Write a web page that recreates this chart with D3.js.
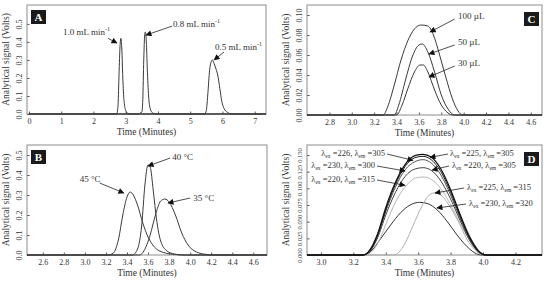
<!DOCTYPE html>
<html>
<head>
<meta charset="utf-8">
<script src="https://cdn.jsdelivr.net/npm/d3@7"></script>
<style>
body { margin: 0; background: #fff; }
text { font-family: "Liberation Serif", "DejaVu Serif", serif; fill: #333; }
</style>
</head>
<body>
<script>
// ---- data (time in minutes, signal in volts) ----

// Panel A: flow rate
var flowLabels = ["1.0 mL min", "0.8 mL min", "0.5 mL min"];
var flow10 = [[0,0],[2.72,0],[2.76,0.04],[2.79,0.2],[2.82,0.36],[2.85,0.42],[2.88,0.36],[2.91,0.2],[2.95,0.07],[3.0,0.02],[3.06,0.004],[3.15,0],[7.35,0]];
var flow08 = [[0,0],[3.4,0],[3.45,0.006],[3.5,0.01],[3.53,0.08],[3.56,0.3],[3.59,0.44],[3.61,0.455],[3.64,0.4],[3.67,0.25],[3.71,0.1],[3.76,0.03],[3.84,0.005],[3.95,0],[7.35,0]];
var flow05 = [[0,0],[5.45,0],[5.5,0.02],[5.55,0.12],[5.6,0.24],[5.65,0.29],[5.69,0.3],[5.74,0.28],[5.8,0.25],[5.86,0.21],[5.92,0.14],[5.98,0.07],[6.05,0.03],[6.15,0.01],[6.3,0],[7.35,0]];
var ticksA_x = [0, 1, 2, 3, 4, 5, 6, 7];
var ticksA_y = [0, 0.1, 0.2, 0.3, 0.4, 0.5];

// Panel B: temperature
var tempLabels = ["45 °C", "40 °C", "35 °C"];
var temp45 = [[2.45,0],[3.22,0],[3.27,0.01],[3.32,0.08],[3.36,0.2],[3.4,0.29],[3.43,0.315],[3.46,0.3],[3.5,0.25],[3.55,0.16],[3.6,0.09],[3.66,0.04],[3.75,0.012],[3.85,0.003],[3.95,0],[4.73,0]];
var temp40 = [[2.45,0],[3.45,0],[3.5,0.03],[3.54,0.15],[3.57,0.35],[3.6,0.45],[3.62,0.44],[3.65,0.32],[3.68,0.18],[3.72,0.07],[3.78,0.02],[3.85,0.005],[3.92,0],[4.73,0]];
var temp35 = [[2.45,0],[3.52,0],[3.56,0.02],[3.62,0.1],[3.67,0.2],[3.72,0.27],[3.76,0.28],[3.8,0.265],[3.86,0.2],[3.92,0.11],[3.98,0.05],[4.06,0.015],[4.15,0.003],[4.2,0],[4.73,0]];
var ticksB_x = [2.6, 2.8, 3.0, 3.2, 3.4, 3.6, 3.8, 4.0, 4.2, 4.4, 4.6];
var ticksB_y = [0, 0.1, 0.2, 0.3, 0.4, 0.5];

// Panel C: injection volume
var volLabels = ["100 µL", "50 µL", "30 µL"];
var vol100 = [[2.6,0],[3.28,0],[3.32,0.008],[3.38,0.03],[3.44,0.055],[3.5,0.074],[3.56,0.086],[3.62,0.09],[3.68,0.089],[3.73,0.08],[3.78,0.062],[3.84,0.038],[3.9,0.016],[3.95,0.004],[3.99,0],[4.7,0]];
var vol50 = [[2.6,0],[3.38,0],[3.42,0.01],[3.48,0.035],[3.54,0.058],[3.6,0.07],[3.63,0.071],[3.68,0.063],[3.74,0.043],[3.8,0.02],[3.86,0.006],[3.92,0],[4.7,0]];
var vol30 = [[2.6,0],[3.4,0],[3.45,0.01],[3.5,0.026],[3.56,0.043],[3.61,0.05],[3.64,0.05],[3.68,0.043],[3.74,0.025],[3.8,0.01],[3.86,0.002],[3.9,0],[4.7,0]];
var ticksC_x = [2.8, 3.0, 3.2, 3.4, 3.6, 3.8, 4.0, 4.2, 4.4, 4.6];
var ticksC_y = [0, 0.02, 0.04, 0.06, 0.08, 0.10];

// Panel D: excitation / emission wavelengths
var lambdaEx = [226, 225, 230, 220, 220, 225, 230];
var lambdaEm = [305, 305, 300, 305, 315, 315, 320];
var wl226_305 = [[2.9,0],[3.26,0],[3.3,0.006],[3.35,0.03],[3.4,0.068],[3.46,0.106],[3.52,0.133],[3.58,0.146],[3.63,0.148],[3.68,0.143],[3.74,0.125],[3.8,0.094],[3.86,0.057],[3.92,0.024],[3.97,0.006],[4.01,0],[4.4,0]];
var wl225_305 = [[2.9,0],[3.26,0],[3.3,0.007],[3.35,0.032],[3.4,0.071],[3.46,0.109],[3.52,0.136],[3.58,0.149],[3.63,0.151],[3.68,0.147],[3.74,0.129],[3.8,0.098],[3.86,0.06],[3.92,0.026],[3.97,0.007],[4.02,0],[4.4,0]];
var wl230_300 = [[2.9,0],[3.26,0],[3.3,0.005],[3.35,0.028],[3.4,0.065],[3.46,0.102],[3.52,0.128],[3.58,0.14],[3.63,0.143],[3.68,0.138],[3.74,0.12],[3.8,0.09],[3.86,0.054],[3.92,0.023],[3.97,0.005],[4.01,0],[4.4,0]];
var wl220_305 = [[2.9,0],[3.26,0],[3.3,0.005],[3.35,0.026],[3.4,0.06],[3.46,0.094],[3.52,0.118],[3.58,0.129],[3.63,0.131],[3.68,0.127],[3.74,0.111],[3.8,0.084],[3.86,0.051],[3.92,0.021],[3.97,0.005],[4.01,0],[4.4,0]];
var wl220_315 = [[2.9,0],[3.27,0],[3.31,0.004],[3.36,0.022],[3.41,0.052],[3.47,0.084],[3.53,0.105],[3.59,0.116],[3.64,0.117],[3.69,0.112],[3.75,0.096],[3.81,0.071],[3.87,0.042],[3.93,0.017],[3.97,0.004],[4.01,0],[4.4,0]];
var wl225_315 = [[2.9,0],[3.45,0],[3.48,0.004],[3.52,0.018],[3.57,0.045],[3.62,0.072],[3.66,0.088],[3.7,0.093],[3.74,0.09],[3.79,0.075],[3.85,0.049],[3.9,0.024],[3.95,0.008],[4.0,0],[4.4,0]];
var wl230_320 = [[2.9,0],[3.27,0],[3.31,0.006],[3.37,0.025],[3.43,0.045],[3.49,0.063],[3.55,0.075],[3.61,0.079],[3.66,0.077],[3.72,0.067],[3.78,0.05],[3.84,0.03],[3.9,0.013],[3.95,0.003],[3.99,0],[4.4,0]];
var ticksD_x = [3.0, 3.2, 3.4, 3.6, 3.8, 4.0, 4.2];
var ticksD_y = [0, 0.025, 0.05, 0.075, 0.1, 0.125, 0.15];

// ---- drawing ----
var width = 550, height = 281;

var svg = d3.select("body").append("svg")
    .attr("width", width)
    .attr("height", height);

var defs = svg.append("defs");
defs.append("marker")
    .attr("id", "head")
    .attr("viewBox", "0 0 10 10")
    .attr("refX", 9).attr("refY", 5)
    .attr("markerWidth", 7).attr("markerHeight", 6)
    .attr("markerUnits", "userSpaceOnUse")
    .attr("orient", "auto")
  .append("path")
    .attr("d", "M0,0L10,5L0,10z")
    .attr("fill", "#111");

function drawPanel(p) {
    var x = d3.scaleLinear().domain(p.xDomain).range([p.left, p.right]);
    var y = d3.scaleLinear().domain(p.yDomain).range([p.bottom, p.top]);
    var g = svg.append("g");

    // tick marks (inward)
    g.append("g")
        .attr("transform", `translate(0, ${p.bottom})`)
        .call(d3.axisBottom(x).tickValues(p.xTicks).tickSize(-2.5).tickFormat(p.xFmt))
        .call(a => a.select(".domain").remove())
        .call(a => a.selectAll("line").attr("stroke", "#555"))
        .call(a => a.selectAll("text")
            .attr("y", 4.5).attr("font-size", 8)
            .style("font-family", "Liberation Serif").attr("fill", "#333"));

    var yAxis = g.append("g")
        .attr("transform", `translate(${p.left}, 0)`)
        .call(d3.axisLeft(y).tickValues(p.yTicks).tickSize(-2.5).tickFormat(p.yFmt));
    yAxis.select(".domain").remove();
    yAxis.selectAll("line").attr("stroke", "#555");
    // rotated tick labels, like the original
    yAxis.selectAll("text")
        .attr("transform", "rotate(-90)")
        .attr("x", 0).attr("y", -5).attr("dy", 0)
        .attr("text-anchor", "middle")
        .attr("font-size", p.yFont || 8)
        .style("font-family", "Liberation Serif").attr("fill", "#333");

    // frame
    g.append("rect")
        .attr("x", p.left).attr("y", p.top)
        .attr("width", p.right - p.left).attr("height", p.bottom - p.top)
        .attr("fill", "none").attr("stroke", "#8c8c8c").attr("stroke-width", 1);

    // axis titles
    g.append("text")
        .attr("transform", `translate(${p.left - 18}, ${(p.top + p.bottom) / 2}) rotate(-90)`)
        .attr("text-anchor", "middle")
        .attr("font-size", 9.5)
        .text("Analytical signal (Volts)");
    g.append("text")
        .attr("x", (p.left + p.right) / 2).attr("y", p.bottom + 21)
        .attr("text-anchor", "middle")
        .attr("font-size", 9.5)
        .text("Time (Minutes)");

    // traces
    var line = d3.line()
        .x(d => x(d[0]))
        .y(d => y(d[1]))
        .curve(d3.curveMonotoneX);
    var clip = "clip" + p.name;
    defs.append("clipPath").attr("id", clip).append("rect")
        .attr("x", p.left).attr("y", p.top)
        .attr("width", p.right - p.left).attr("height", p.bottom - p.top + 1);
    g.append("g").attr("clip-path", `url(#${clip})`)
        .selectAll("path")
        .data(p.series)
        .enter().append("path")
        .attr("d", d => line(d.values))
        .attr("fill", "none")
        .attr("stroke", d => d.color)
        .attr("stroke-width", d => d.w || 1);

    // annotations with arrows
    p.notes.forEach(n => {
        g.append("line")
            .attr("x1", x(n.from[0])).attr("y1", y(n.from[1]))
            .attr("x2", x(n.to[0])).attr("y2", y(n.to[1]))
            .attr("stroke", "#222").attr("stroke-width", 0.8)
            .attr("marker-end", "url(#head)");
        var t = g.append("text")
            .attr("x", x(n.at[0])).attr("y", y(n.at[1]))
            .attr("text-anchor", n.anchor || "start")
            .attr("font-size", n.size || 9);
        n.parts.forEach(part => {
            var s = t.append("tspan").text(part.t);
            if (part.sup) s.attr("font-size", 6).attr("dy", -4);
            if (part.sub) s.attr("font-size", 5.5).attr("dy", 2);
            if (part.back) s.attr("dy", part.back);
        });
    });

    // panel letter
    var bx = p.boxRight ? p.right - 18 : p.left + 4;
    g.append("rect")
        .attr("x", bx).attr("y", p.top + (p.boxRight ? 7 : 5))
        .attr("width", 15).attr("height", 14)
        .attr("fill", "#1a1a1a");
    g.append("text")
        .attr("x", bx + 7.5).attr("y", p.top + (p.boxRight ? 7 : 5) + 11)
        .attr("text-anchor", "middle")
        .attr("font-size", 11).attr("font-weight", "bold")
        .style("fill", "#fff")
        .text(p.name);
}

var grey = "#3a3a3a";
var f1 = d3.format(".1f"), f2 = d3.format(".2f"), f3 = d3.format(".3f");

function flowNote(i, at, from, to) {
    return {at: at, from: from, to: to, parts: [{t: flowLabels[i]}, {t: "-1", sup: true}]};
}
function plainNote(label, at, from, to) {
    return {at: at, from: from, to: to, parts: [{t: label}]};
}
function wlNote(i, at, from, to, anchor) {
    return {at: at, from: from, to: to, anchor: anchor, size: 8.5, parts: [
        {t: "λ"}, {t: "ex", sub: true}, {t: " =" + lambdaEx[i] + ", λ", back: -2},
        {t: "em", sub: true}, {t: " =" + lambdaEm[i], back: -2}
    ]};
}

drawPanel({
    name: "A", left: 27, right: 266, top: 5, bottom: 114,
    xDomain: [-0.06, 7.35], yDomain: [0, 0.605],
    xTicks: ticksA_x, yTicks: ticksA_y, xFmt: d3.format("d"), yFmt: f1,
    series: [
        {values: flow10, color: grey},
        {values: flow08, color: grey},
        {values: flow05, color: grey}
    ],
    notes: [
        flowNote(0, [1.06, 0.44], [2.45, 0.42], [2.73, 0.394]),
        flowNote(1, [4.47, 0.483], [4.44, 0.488], [3.63, 0.438]),
        flowNote(2, [5.77, 0.355], [6.05, 0.344], [5.74, 0.30])
    ]
});

drawPanel({
    name: "B", left: 27, right: 267, top: 145, bottom: 255,
    xDomain: [2.45, 4.73], yDomain: [0, 0.55],
    xTicks: ticksB_x, yTicks: ticksB_y, xFmt: f1, yFmt: f1,
    series: [
        {values: temp45, color: grey},
        {values: temp40, color: grey},
        {values: temp35, color: grey}
    ],
    notes: [
        plainNote(tempLabels[0], [2.95, 0.365], [3.14, 0.36], [3.37, 0.31]),
        plainNote(tempLabels[1], [3.83, 0.475], [3.81, 0.485], [3.60, 0.445]),
        plainNote(tempLabels[2], [4.03, 0.27], [4.0, 0.285], [3.79, 0.26])
    ]
});

drawPanel({
    name: "C", left: 307, right: 542, top: 5, bottom: 115, boxRight: true,
    xDomain: [2.6, 4.7], yDomain: [0, 0.11],
    xTicks: ticksC_x, yTicks: ticksC_y, xFmt: f1, yFmt: f2,
    series: [
        {values: vol100, color: grey},
        {values: vol50, color: grey},
        {values: vol30, color: grey}
    ],
    notes: [
        plainNote(volLabels[0], [3.95, 0.096], [3.92, 0.096], [3.70, 0.083]),
        plainNote(volLabels[1], [3.95, 0.070], [3.92, 0.070], [3.69, 0.061]),
        plainNote(volLabels[2], [3.95, 0.049], [3.92, 0.049], [3.69, 0.038])
    ]
});

drawPanel({
    name: "D", left: 307, right: 542, top: 145, bottom: 255, boxRight: true,
    xDomain: [2.914, 4.364], yDomain: [0, 0.165], yFont: 6.5,
    xTicks: ticksD_x, yTicks: ticksD_y, xFmt: f1, yFmt: f3,
    series: [
        {values: wl230_320, color: "#333"},
        {values: wl225_315, color: "#b0b0b0"},
        {values: wl220_315, color: "#b8b8b8"},
        {values: wl220_305, color: "#444"},
        {values: wl230_300, color: "#555"},
        {values: wl226_305, color: "#222"},
        {values: wl225_305, color: "#111", w: 1.3}
    ],
    notes: [
        wlNote(0, [3.395, 0.1485], [3.408, 0.1515], [3.568, 0.142], "end"),
        wlNote(1, [3.797, 0.1485], [3.784, 0.1515], [3.673, 0.1465]),
        wlNote(2, [3.334, 0.1305], [3.346, 0.1335], [3.519, 0.126], "end"),
        wlNote(3, [3.809, 0.1305], [3.79, 0.1335], [3.686, 0.1275]),
        wlNote(4, [3.334, 0.1095], [3.346, 0.1125], [3.519, 0.1045], "end"),
        wlNote(5, [3.902, 0.0975], [3.883, 0.1005], [3.704, 0.093]),
        wlNote(6, [3.914, 0.0735], [3.895, 0.0765], [3.716, 0.0705])
    ]
});
</script>
</body>
</html>
